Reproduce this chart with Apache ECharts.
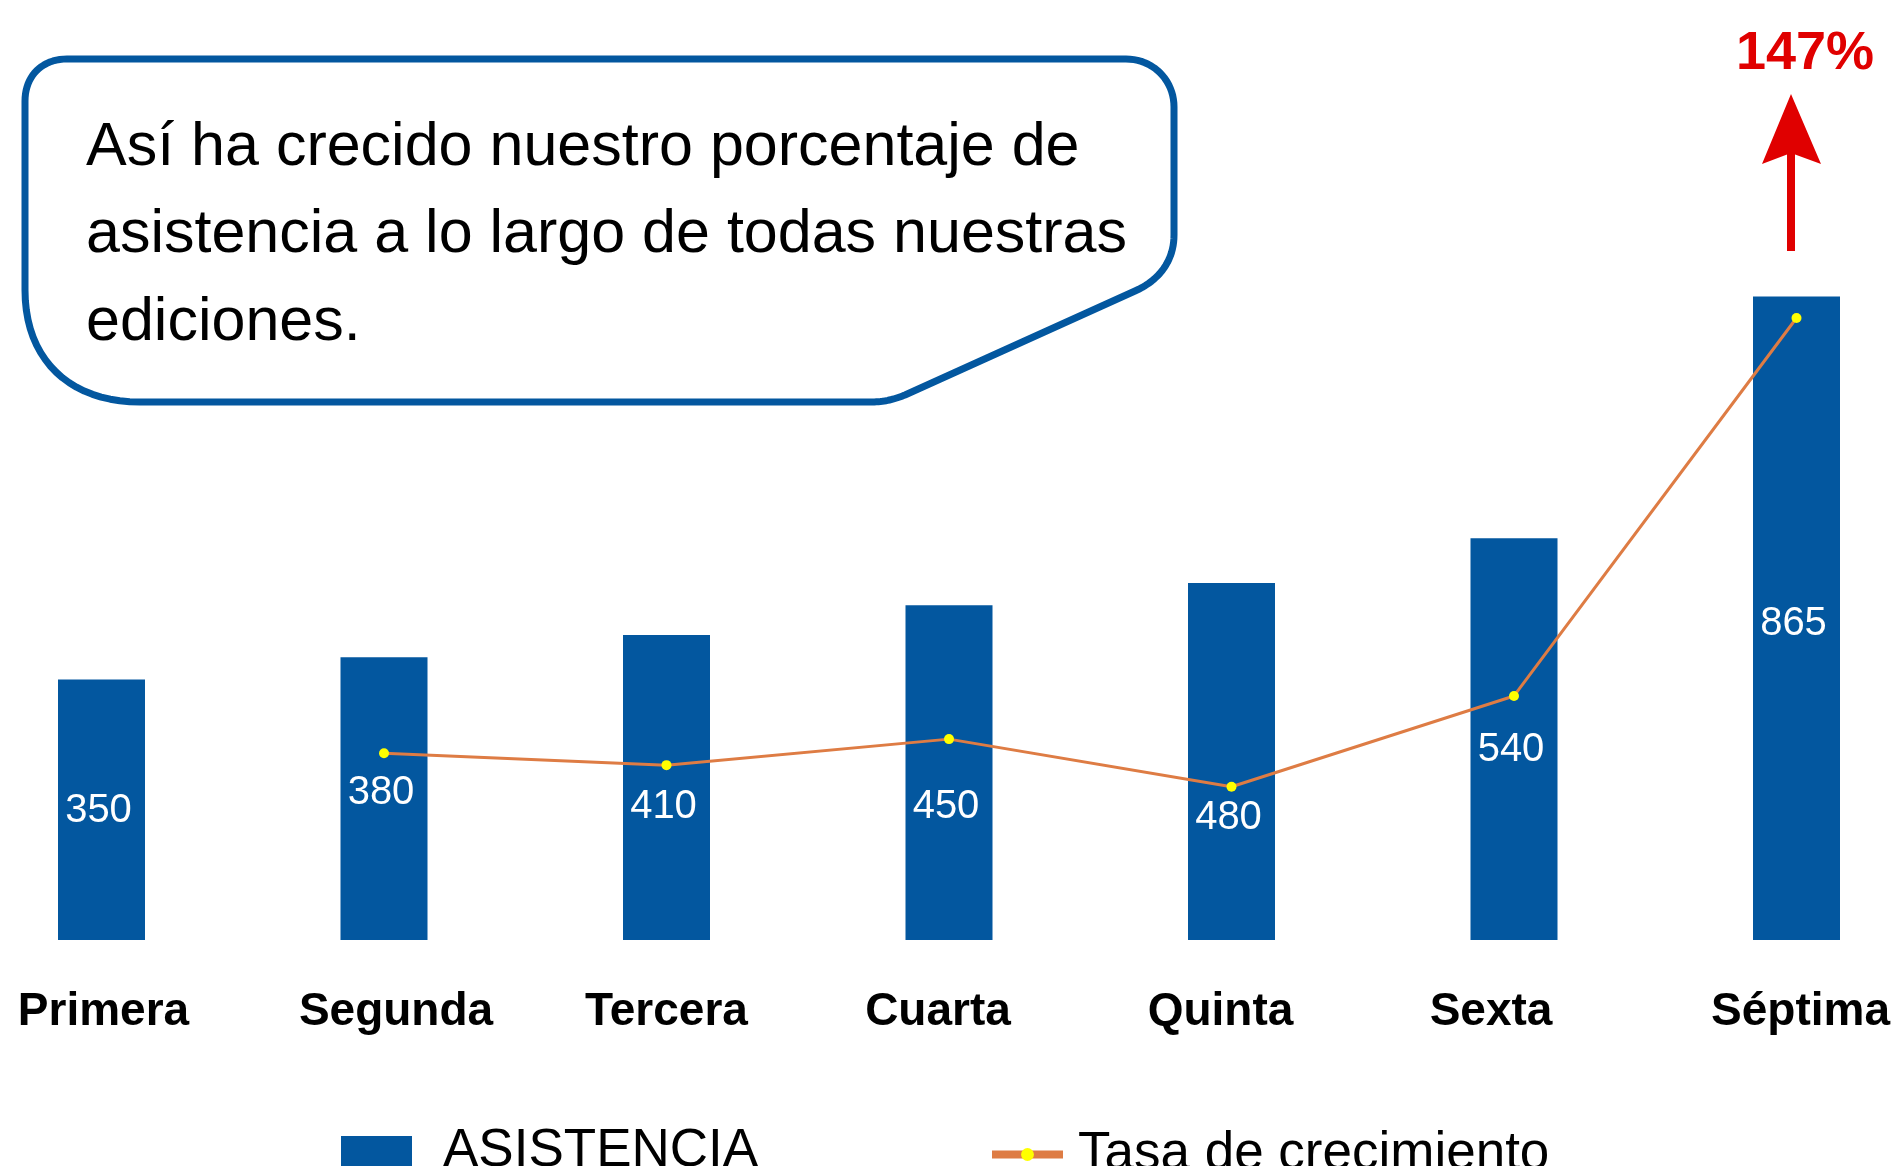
<!DOCTYPE html>
<html>
<head>
<meta charset="utf-8">
<title>Asistencia por edición</title>
<script src="https://cdn.jsdelivr.net/npm/echarts/dist/echarts.min.js"></script>
<style>
  html, body { margin: 0; padding: 0; background: #fff; }
  #chart { width: 1899px; height: 1166px; }
</style>
</head>
<body>
<div id="chart"></div>
<script>
// datos
const ediciones = ['Primera', 'Segunda', 'Tercera', 'Cuarta', 'Quinta', 'Sexta', 'Séptima']
const asistencia = [350, 380, 410, 450, 480, 540, 865]
// tasa de crecimiento (eje secundario oculto, 0-100)
const tasa = [null, 25.1, 23.5, 27.0, 20.6, 32.8, 83.6]
const crecimientoTotal = '147%'
const textoNota = [
  'Así ha crecido nuestro porcentaje de',
  'asistencia a lo largo de todas nuestras',
  'ediciones.'
]

// ajustes de posicion de las etiquetas (px)
const labelShift = [1.5, -5.5, 19.5, 34.5, 56.5, 11, 5.5]
const catNudge = [2, 12, 0, -11, -11, -23, 4]

const azul = '#03579f'
const naranja = '#de7c44'
const rojo = '#e00000'
const font = '"Liberation Sans", Arial, Helvetica, sans-serif'

// contorno del globo: tramos rectos y curvas cubicas
function bubblePoints() {
  const segs = [
    ['L', [1126, 59]],
    ['C', [1153, 59], [1174, 80], [1174, 107]],
    ['L', [1174, 235]],
    ['C', [1174, 260], [1160, 280], [1135, 291]],
    ['L', [905, 395]],
    ['C', [895, 399], [885, 402], [870, 402]],
    ['L', [140, 402]],
    ['C', [70, 402], [25, 360], [25, 290]],
    ['L', [25, 101]],
    ['C', [25, 76], [42, 59], [67, 59]]
  ]
  let pts = [[67, 59]]
  let cur = [67, 59]
  segs.forEach(s => {
    if (s[0] === 'L') {
      pts.push(s[1])
      cur = s[1]
    } else {
      const [p1, p2, p3] = [s[1], s[2], s[3]]
      for (let k = 1; k <= 20; k++) {
        const t = k / 20, u = 1 - t
        pts.push([
          u * u * u * cur[0] + 3 * u * u * t * p1[0] + 3 * u * t * t * p2[0] + t * t * t * p3[0],
          u * u * u * cur[1] + 3 * u * u * t * p1[1] + 3 * u * t * t * p2[1] + t * t * t * p3[1]
        ])
      }
      cur = p3
    }
  })
  return pts
}

const chart = echarts.init(document.getElementById('chart'))

const option = {
  backgroundColor: '#fff',
  animation: false,
  grid: {
    left: 101.5,
    right: 102.5,
    top: 196,
    bottom: 226
  },
  xAxis: {
    type: 'category',
    data: ediciones.map((name, i) => ({
      value: name,
      textStyle: {
        padding: catNudge[i] >= 0 ? [0, 0, 0, 2 * catNudge[i]] : [0, -2 * catNudge[i], 0, 0]
      }
    })),
    boundaryGap: false,
    axisLine: { show: false },
    axisTick: { show: false },
    splitLine: { show: false },
    axisLabel: {
      interval: 0,
      margin: 49,
      color: '#000',
      fontSize: 46,
      fontWeight: 'bold',
      fontFamily: font
    }
  },
  yAxis: [
    { type: 'value', min: 0, max: 1000, show: false },
    { type: 'value', min: 0, max: 100, show: false }
  ],
  legend: [
    {
      data: ['ASISTENCIA'],
      left: 341,
      top: 1124.5,
      padding: 0,
      icon: 'rect',
      itemWidth: 71,
      itemHeight: 30,
      textStyle: {
        color: '#000',
        fontSize: 53,
        fontFamily: font,
        padding: [4, 0, 0, 26]
      }
    },
    {
      data: ['Tasa de crecimiento'],
      left: 988,
      top: 1128,
      padding: 0,
      itemWidth: 71,
      itemHeight: 16,
      lineStyle: { width: 8 },
      textStyle: {
        color: '#000',
        fontSize: 53,
        fontFamily: font,
        padding: [0, 0, 0, 10]
      }
    }
  ],
  series: [
    {
      name: 'ASISTENCIA',
      type: 'bar',
      barWidth: 87,
      clip: false,
      itemStyle: { color: azul },
      data: asistencia.map((v, i) => ({
        value: v,
        label: { offset: [-3, labelShift[i]] }
      })),
      label: {
        show: true,
        position: 'inside',
        color: '#fff',
        fontSize: 40,
        fontFamily: font
      }
    },
    {
      name: 'Tasa de crecimiento',
      type: 'line',
      yAxisIndex: 1,
      data: tasa,
      symbol: 'circle',
      symbolSize: 10,
      clip: false,
      z: 5,
      lineStyle: { color: naranja, width: 3 },
      itemStyle: { color: '#ffff00', borderWidth: 0 }
    }
  ],
  graphic: [
    // globo de texto
    {
      type: 'polygon',
      shape: { points: bubblePoints() },
      style: { fill: '#fff', stroke: azul, lineWidth: 7, lineJoin: 'round' },
      z: 10
    },
    ...textoNota.map((t, i) => ({
      type: 'text',
      x: 86,
      y: 148 + i * 87.5,
      z: 11,
      style: {
        text: t,
        fill: '#000',
        fontSize: 61,
        fontFamily: font,
        textAlign: 'left',
        textVerticalAlign: 'middle'
      }
    })),
    // flecha roja
    {
      type: 'polygon',
      shape: { points: [[1791, 94], [1762, 164], [1791, 153], [1821, 164]] },
      style: { fill: rojo },
      z: 10
    },
    {
      type: 'rect',
      shape: { x: 1787, y: 150, width: 8, height: 101 },
      style: { fill: rojo },
      z: 10
    },
    {
      type: 'text',
      x: 1805,
      y: 54,
      z: 10,
      style: {
        text: crecimientoTotal,
        fill: rojo,
        fontSize: 54,
        fontWeight: 'bold',
        fontFamily: font,
        textAlign: 'center',
        textVerticalAlign: 'middle'
      }
    }
  ]
}

chart.setOption(option)
</script>
</body>
</html>
